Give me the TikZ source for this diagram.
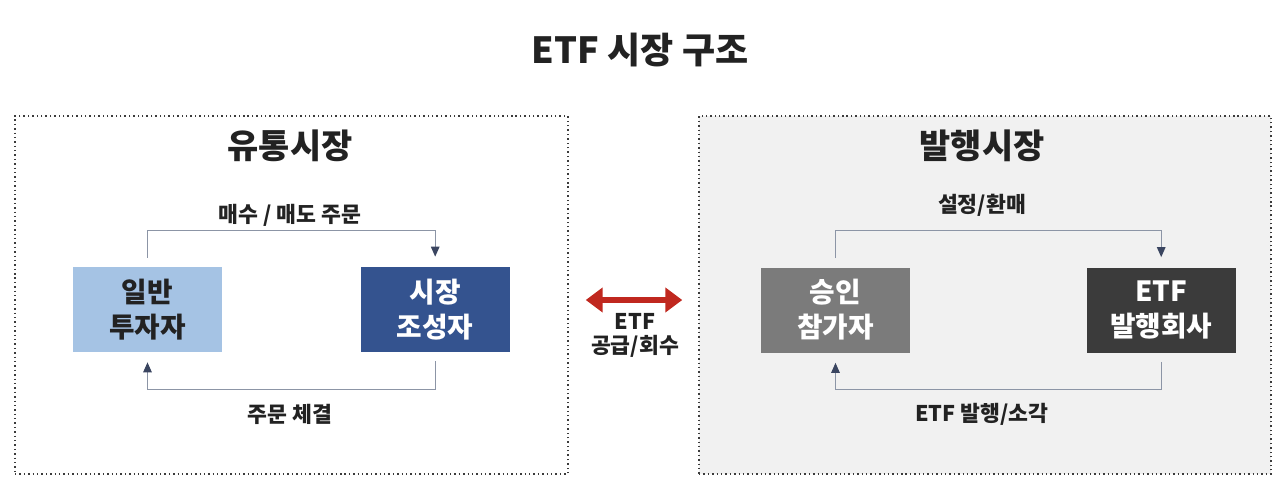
\documentclass[tikz,border=0pt]{standalone}
\usepackage{fontspec}
\setmainfont{Noto Sans CJK KR}
\usepackage{tikz}
\usetikzlibrary{positioning,arrows.meta}

\definecolor{lightblue}{HTML}{A5C3E4}
\definecolor{navyblue}{HTML}{34538F}
\definecolor{midgray}{HTML}{7B7B7B}
\definecolor{darkgray}{HTML}{3B3B3B}
\definecolor{regiongray}{HTML}{F1F1F1}
\definecolor{linegray}{HTML}{8C95A6}
\definecolor{tipnavy}{HTML}{3A4560}
\definecolor{supplyred}{HTML}{C0281F}
\definecolor{textdark}{HTML}{222222}

\begin{document}
\begin{tikzpicture}[
  every node/.style={font=\bfseries, text=textdark},
  market/.style={draw=darkgray, line width=0.8pt, dash pattern=on 0.8pt off 1.7pt, rectangle, minimum height=7.16cm},
  box/.style={rectangle, minimum width=2.98cm, minimum height=1.7cm, align=center, font=\fontsize{15.8}{20}\selectfont\bfseries},
  flow/.style={draw=linegray, line width=0.7pt, -{Triangle[length=0.2cm, width=0.17cm, color=tipnavy]}, shorten <=0.18cm, shorten >=0.2cm},
  flowlabel/.style={font=\fontsize{12.3}{13.6}\selectfont\bfseries}
]
\useasboundingbox (0,0) rectangle (25.6,-9.7);

% title
\node[font=\fontsize{20.5}{24}\selectfont\bfseries] (title) at (12.8,-1.0) {ETF 시장 구조};

% the two markets
\node[market, minimum width=11.06cm] (trade) at (5.83,-5.9) {};
\node[market, fill=regiongray, minimum width=11.44cm] (issue) at (19.7,-5.9) {};
\node[font=\fontsize{19.3}{22}\selectfont\bfseries] (tradetitle) at (5.8,-2.92) {유통시장};
\node[font=\fontsize{19.3}{22}\selectfont\bfseries] (issuetitle) at (19.64,-2.92) {발행시장};

% secondary market
\node[box, fill=lightblue] (inv) at (2.95,-6.19) {일반\\투자자};
\node[box, fill=navyblue, text=white, right=2.76cm of inv] (mm) {시장\\조성자};

\draw[flow] (inv.north) -- ++(0,0.72) -| (mm.north);
\draw[flow] (mm.south) -- ++(0,-0.74) -| (inv.south);
\node[flowlabel] (order) at (5.8,-4.3) {매수 / 매도 주문};
\node[flowlabel] (fill) at (5.8,-8.28) {주문 체결};

% primary market
\node[box, fill=midgray, text=white] (ap) at (16.71,-6.2) {승인\\참가자};
\node[box, fill=darkgray, text=white, right=3.52cm of ap] (iss) {ETF\\발행회사};

\draw[flow] (ap.north) -- ++(0,0.74) -| (iss.north);
\draw[flow] (iss.south) -- ++(0,-0.74) -| (ap.south);
\node[flowlabel] (create) at (19.64,-4.1) {설정/환매};
\node[flowlabel] (burn) at (19.64,-8.28) {ETF 발행/소각};

% between the markets
\draw[draw=supplyred, line width=0.12cm, {Triangle[length=0.34cm, width=0.48cm]}-{Triangle[length=0.34cm, width=0.48cm]}, shorten <=0.34cm, shorten >=0.32cm] ([yshift=-0.1cm]trade.east) -- ([yshift=-0.1cm]issue.west);
\node[flowlabel, align=center] (supply) at (12.7,-6.7) {ETF\\공급/회수};
\end{tikzpicture}
\end{document}
